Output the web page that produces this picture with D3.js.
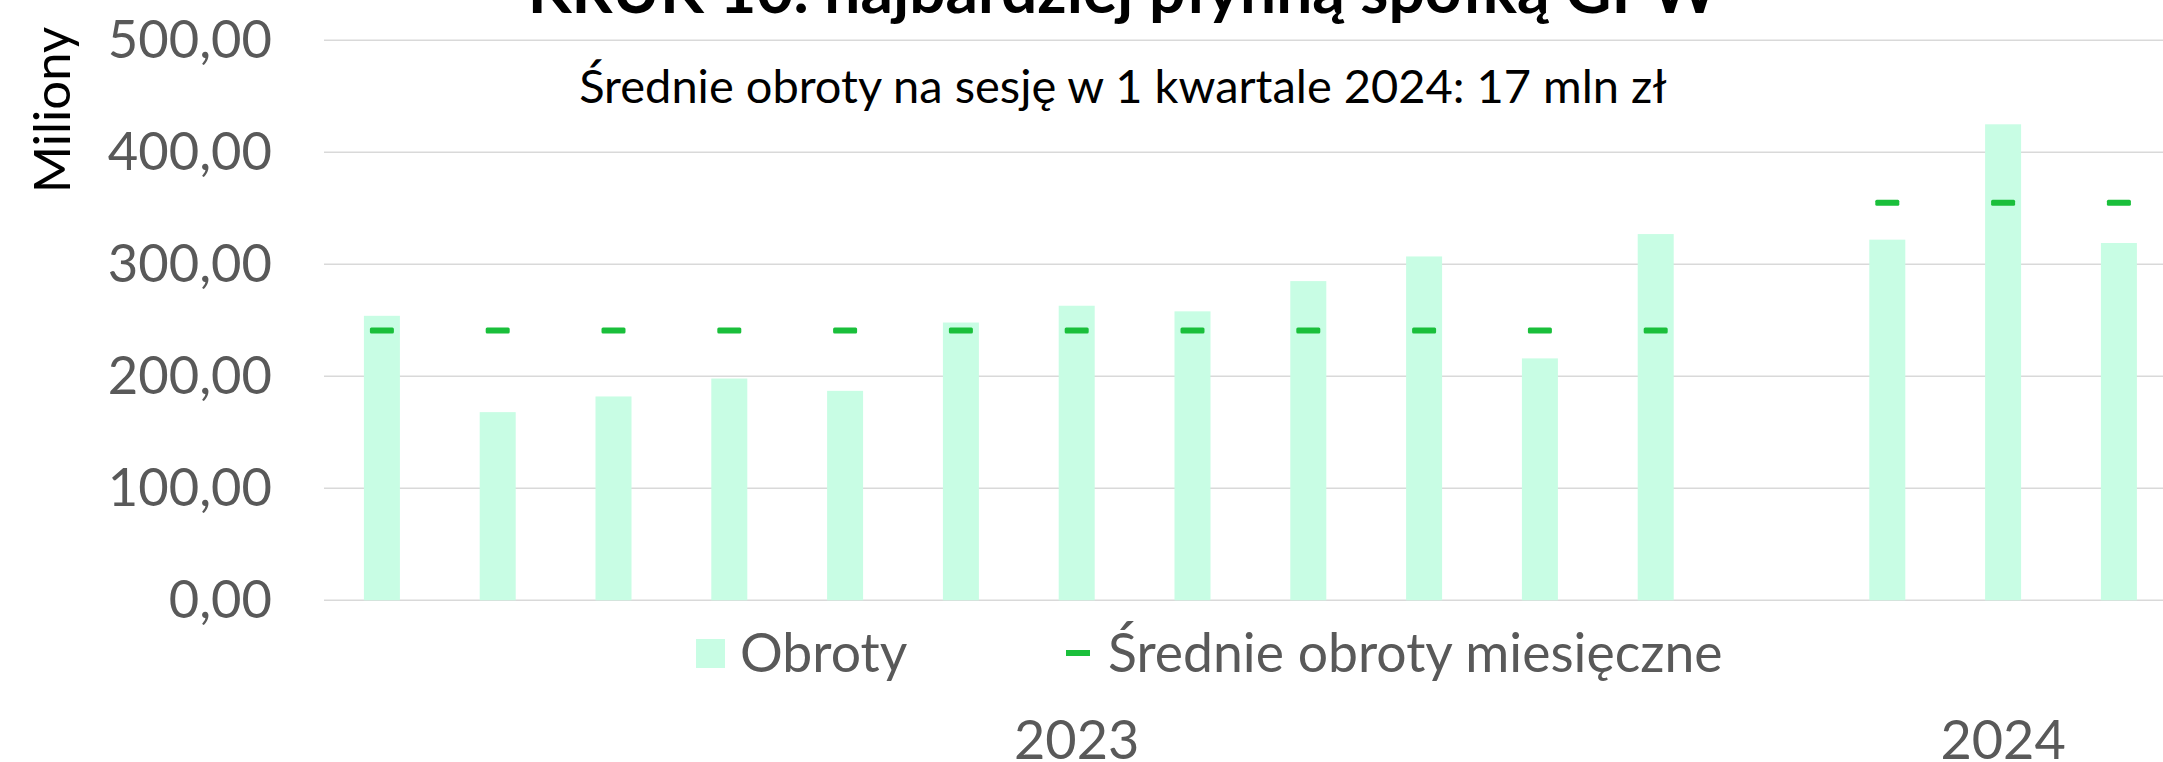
<!DOCTYPE html>
<html>
<head>
<meta charset="utf-8">
<script src="https://cdn.jsdelivr.net/npm/d3@7"></script>
<style>
  body { margin: 0; background: #fff; }
  svg { display: block; font-family: Lato, "Open Sans", sans-serif; }
</style>
</head>
<body>
<div id="chart"></div>
<script>
// data (mln zł per month)
var categories = ["2023-01","2023-02","2023-03","2023-04","2023-05","2023-06","2023-07","2023-08","2023-09","2023-10","2023-11","2023-12","2023-gap","2024-01","2024-02","2024-03"];
var obroty = [254, 168, 182, 198, 187, 248, 263, 258, 285, 307, 216, 327, null, 322, 425, 319];
var srednie = [241, 241, 241, 241, 241, 241, 241, 241, 241, 241, 241, 241, null, 355, 355, 355];
var years = ["2023", "2024"];
var yearSpans = [[0, 12], [13, 15]];
var yTicks = [0, 100, 200, 300, 400, 500];

var width = 2163, height = 762;
var plotLeft = 324, slot = 115.8;

var svg = d3.select("#chart")
  .append("svg")
    .attr("width", width)
    .attr("height", height);

var x = d3.scaleBand()
    .domain(categories)
    .range([plotLeft, plotLeft + slot * categories.length])
    .padding(0);

var y = d3.scaleLinear()
    .domain([0, 500])
    .range([600.3, 40.3]);

var fmt = function(d){ return d3.format(".2f")(d).replace(".", ","); };

// gridlines
svg.selectAll("line.grid")
  .data(yTicks)
  .enter()
  .append("line")
    .attr("class", "grid")
    .attr("x1", plotLeft)
    .attr("x2", width)
    .attr("y1", function(d){ return y(d); })
    .attr("y2", function(d){ return y(d); })
    .attr("stroke", "#d9d9d9")
    .attr("stroke-width", 1.6);

// tick labels
svg.selectAll("text.tick")
  .data(yTicks)
  .enter()
  .append("text")
    .attr("x", 272)
    .attr("y", function(d){ return y(d) + 18; })
    .attr("text-anchor", "end")
    .attr("font-size", 52.5)
    .attr("fill", "#595959")
    .text(fmt);

// axis title
svg.append("text")
  .attr("transform", "translate(70,110) rotate(-90)")
  .attr("text-anchor", "middle")
  .attr("font-size", 51)
  .attr("fill", "#000")
  .text("Miliony");

// bars
var barW = 36;
svg.selectAll("rect.bar")
  .data(categories.map(function(c, i){ return {c: c, v: obroty[i]}; }).filter(function(d){ return d.v != null; }))
  .enter()
  .append("rect")
    .attr("x", function(d){ return x(d.c) + x.bandwidth()/2 - barW/2; })
    .attr("y", function(d){ return y(d.v); })
    .attr("width", barW)
    .attr("height", function(d){ return y(0) - y(d.v); })
    .style("fill", "#c8fde4");

// average markers
svg.selectAll("rect.avg")
  .data(categories.map(function(c, i){ return {c: c, v: srednie[i]}; }).filter(function(d){ return d.v != null; }))
  .enter()
  .append("rect")
    .attr("x", function(d){ return x(d.c) + x.bandwidth()/2 - 12; })
    .attr("y", function(d){ return y(d.v) - 3; })
    .attr("width", 24)
    .attr("height", 6)
    .attr("rx", 1.5)
    .style("fill", "#1abf3b");

// title and subtitle
svg.append("text")
  .attr("x", 1123)
  .attr("y", 13)
  .attr("text-anchor", "middle")
  .attr("font-size", 64)
  .attr("font-weight", "bold")
  .attr("fill", "#000")
  .text("KRUK 10. najbardziej płynną spółką GPW");

svg.append("text")
  .attr("x", 1123)
  .attr("y", 103)
  .attr("text-anchor", "middle")
  .attr("font-size", 47)
  .attr("fill", "#000")
  .text("Średnie obroty na sesję w 1 kwartale 2024: 17 mln zł");

// legend
svg.append("rect")
  .attr("x", 696).attr("y", 639)
  .attr("width", 29).attr("height", 29)
  .style("fill", "#c8fde4");
svg.append("text")
  .attr("x", 740).attr("y", 672)
  .attr("font-size", 53.5)
  .attr("fill", "#595959")
  .text("Obroty");
svg.append("rect")
  .attr("x", 1066).attr("y", 650)
  .attr("width", 24).attr("height", 6)
  .style("fill", "#1abf3b");
svg.append("text")
  .attr("x", 1108).attr("y", 672)
  .attr("font-size", 53.5)
  .attr("fill", "#595959")
  .text("Średnie obroty miesięczne");

// year group labels
svg.selectAll("text.year")
  .data(years)
  .enter()
  .append("text")
    .attr("x", function(d, i){
      var a = x(categories[yearSpans[i][0]]), b = x(categories[yearSpans[i][1]]) + x.bandwidth();
      return (a + b) / 2;
    })
    .attr("y", 759)
    .attr("text-anchor", "middle")
    .attr("font-size", 54)
    .attr("fill", "#595959")
    .text(function(d){ return d; });
</script>
</body>
</html>
